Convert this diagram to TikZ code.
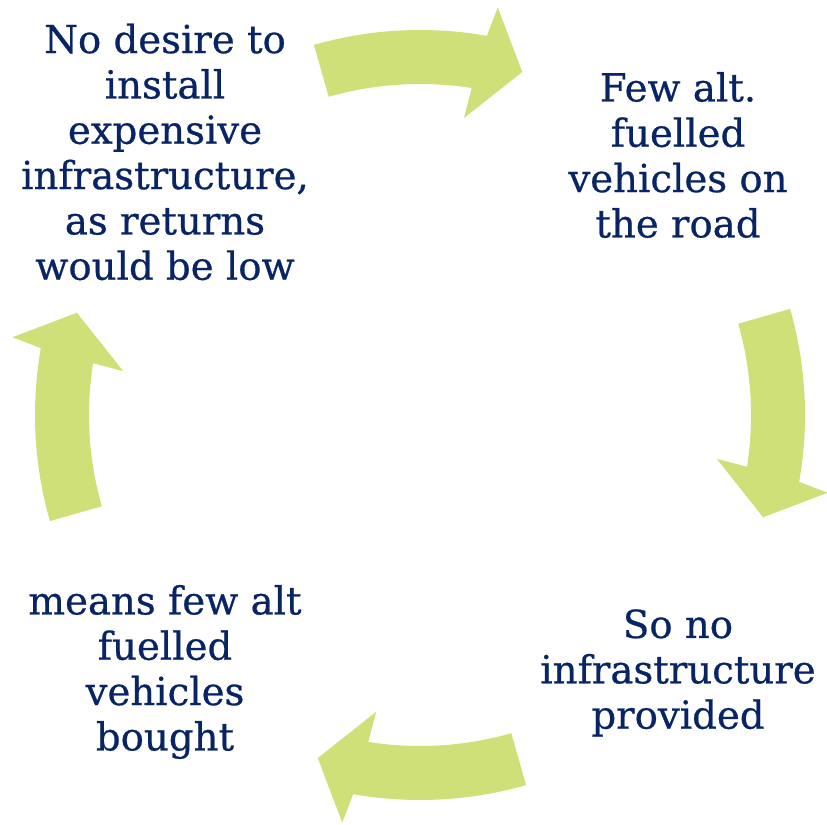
\documentclass[tikz,border=0pt]{standalone}
\usepackage{fontspec}
\setmainfont{DejaVu Serif}
\newfontfamily\cyclefont{DejaVu Serif}[FakeBold=0.6]
\definecolor{cyclegreen}{RGB}{208,224,120}
\definecolor{cycletext}{RGB}{8,36,100}
\tikzset{
  cyclearrow/.style={fill=cyclegreen},
  cyclelabel/.style={text=cycletext, align=center, font=\cyclefont\fontsize{29}{34}\selectfont}
}
\begin{document}
\begin{tikzpicture}[x=0.75pt,y=0.75pt]
\useasboundingbox (0,0) rectangle (827,824);
% four curved arrows round the middle
\foreach \turn in {0,90,180,270}
  \fill[cyclearrow, shift={(420,409)}, rotate=-\turn]
    (106:385) arc[start angle=106, end angle=80, radius=385]
    -- (79.2:415) -- (73.4:358) -- (81.6:300) -- (81:331)
    arc[start angle=81, end angle=106, radius=331] -- cycle;
% texts
\node[cyclelabel] (desire) at (165,672) {No desire to\\install\\expensive\\infrastructure,\\as returns\\would be low};
\node[cyclelabel] (fewalt) at (678,669) {Few alt.\\fuelled\\vehicles on\\the road};
\node[cyclelabel] (noinfra) at (678,151) {So no\\infrastructure\\provided};
\node[cyclelabel] (bought) at (165,152) {means few alt\\fuelled\\vehicles\\bought};
\end{tikzpicture}
\end{document}
